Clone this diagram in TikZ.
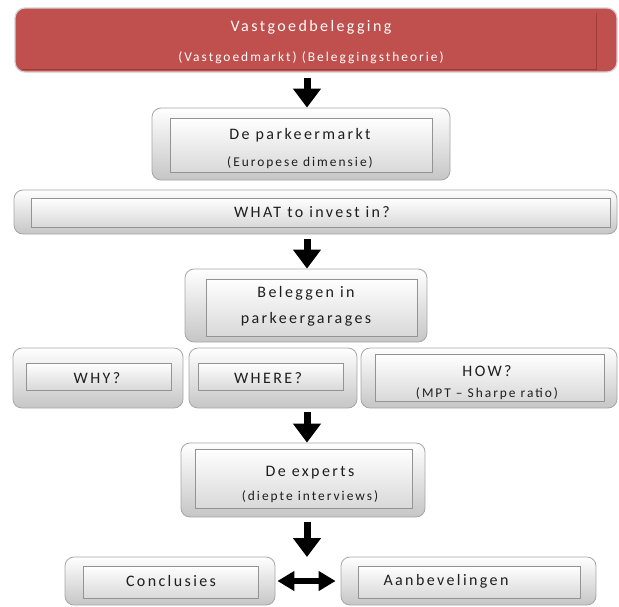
\documentclass[tikz,border=0pt]{standalone}
\usepackage{fontspec}
\setmainfont{Carlito}[LetterSpace=15]
\usepackage{tikz}
\usetikzlibrary{arrows.meta, fit, calc}

\definecolor{headred}{HTML}{C0504D}
\definecolor{headline}{HTML}{9E3B38}
\definecolor{boxtext}{HTML}{1E1E1E}

\newcommand{\blocktitle}{\fontsize{16}{19}\selectfont}
\newcommand{\blocknote}{\fontsize{13.4}{16}\selectfont}

\begin{document}
\begin{tikzpicture}[
            x=1pt, y=-1pt,
            >=Stealth,
            outerbox/.style={draw=gray!70, line width=0.8pt, rounded corners=9pt, top color=white, bottom color=gray!45, inner sep=0pt},
            innerbox/.style={draw=gray!85, line width=0.7pt, top color=white, bottom color=gray!30, inner sep=0pt},
            boxlabel/.style={align=center, text=boxtext, inner sep=0pt, font=\blocktitle},
            blockarrow/.style={-{Triangle[width=27pt,length=19pt]}, line width=7pt},
            twoarrow/.style={{Triangle[width=19pt,length=17pt]}-{Triangle[width=19pt,length=17pt]}, line width=6pt}
        ]

            \useasboundingbox (0,0) rectangle (619,606);

            % --- Coordinates ---
            \coordinate (axis) at (307,0);
            \coordinate (split) at (307,557);

            % --- 1. Head block ---
            \node[fit={(15,8) (617,72)}, rounded corners=10pt, fill=headred, draw=gray!35, line width=1.2pt, inner sep=0pt] (head) {};
            \node[fit={(22,13) (596,69)}, inner sep=0pt] (headin) {};
            \draw[headline, line width=1pt] (headin.north east) -- (headin.south east) -- (headin.south west);
            \node[boxlabel, text=white] (headtxt) at (311,42)
                {Vastgoedbelegging\\[11pt]\blocknote (Vastgoedmarkt) (Beleggingstheorie)};

            % --- 2. Market ---
            \node[outerbox, fit={(152,108) (450,180)}] (markt) {};
            \node[innerbox, fit={(170,118) (432,172)}] (marktin) {};
            \node[boxlabel] (markttxt) at (300,149)
                {De parkeermarkt\\[8pt]\blocknote (Europese dimensie)};

            % --- 3. What bar ---
            \node[outerbox, fit={(14,190) (617,234)}] (what) {};
            \node[innerbox, fit={(31,198) (610,227)}] (whatin) {};
            \node[boxlabel] (whattxt) at (312,212) {WHAT to invest in?};

            % --- 4. Parking garages ---
            \node[outerbox, fit={(185,269) (427,342)}] (beleg) {};
            \node[innerbox, fit={(206,279) (417,336)}] (belegin) {};
            \node[boxlabel] (belegtxt) at (306,306)
                {Beleggen in\\[7pt]parkeergarages};

            % --- 5. Why / Where / How ---
            \node[outerbox, fit={(13,348) (183,408)}] (why) {};
            \node[innerbox, fit={(26,363) (171,390)}] (whyin) {};
            \node[boxlabel] (whytxt) at (97,378) {WHY?};
            \node[outerbox, fit={(189,348) (357,408)}] (where) {};
            \node[innerbox, fit={(198,363) (343,390)}] (wherein) {};
            \node[boxlabel] (wheretxt) at (268,378) {WHERE?};
            \node[outerbox, fit={(361,348) (617,408)}] (how) {};
            \node[innerbox, fit={(375,354) (604,401)}] (howin) {};
            \node[boxlabel] (howtxt) at (487,382.5)
                {HOW?\\[2pt]\blocknote (MPT -- Sharpe ratio)};

            % --- 6. Experts ---
            \node[outerbox, fit={(181,443) (425,517)}] (experts) {};
            \node[innerbox, fit={(195,449) (412,508)}] (expertsin) {};
            \node[boxlabel] (expertstxt) at (310,484)
                {De experts\\[5pt]\blocknote (diepte interviews)};

            % --- 7. Conclusions ---
            \node[outerbox, fit={(65,557) (275,605)}] (concl) {};
            \node[innerbox, fit={(83,566) (258,598)}] (conclin) {};
            \node[boxlabel] (concltxt) at (171,581) {Conclusies};
            \node[outerbox, fit={(341,557) (596,605)}] (advies) {};
            \node[innerbox, fit={(358,566) (580,598)}] (adviesin) {};
            \node[boxlabel] (adviestxt) at (446,581) {Aanbevelingen};

            % --- 8. Arrows ---
            \draw[blockarrow, shorten <=5pt] (head.south -| axis) -- (markt.north -| axis);
            \draw[blockarrow, shorten <=5pt] (what.south -| axis) -- (beleg.north -| axis);
            \draw[blockarrow, shorten <=4pt] (where.south -| axis) -- (experts.north -| axis);
            \draw[blockarrow, shorten <=5pt] (experts.south -| axis) -- (split);
            \draw[twoarrow, shorten <=2pt, shorten >=5pt] (concl.east) -- (advies.west);

        \end{tikzpicture}
\end{document}
